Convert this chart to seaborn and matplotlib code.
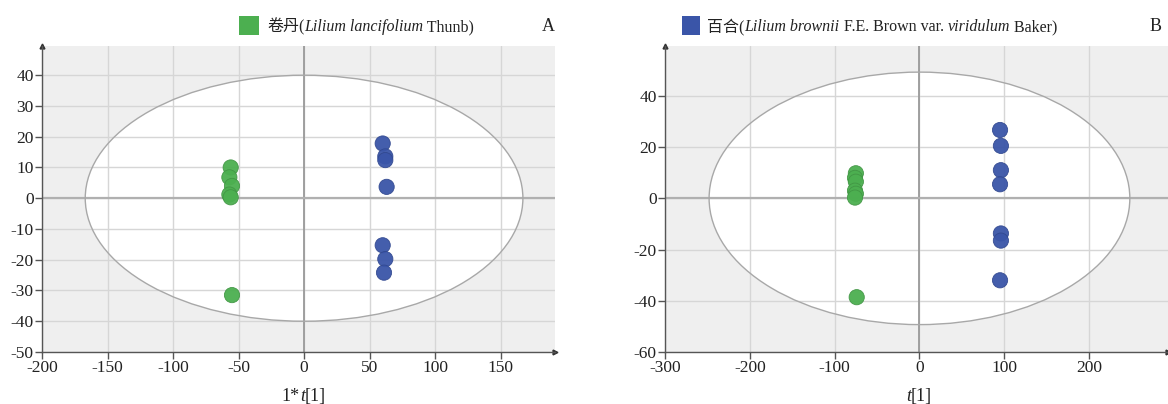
import numpy as np
import pandas as pd
import matplotlib
matplotlib.use("Agg")
import matplotlib.pyplot as plt
from matplotlib.patches import Ellipse, Rectangle
import seaborn as sns

# ---------------- data ----------------
# Panel A scores
a_green_t1 = [-56, -57, -55, -57, -56, -55]
a_green_t2 = [10.0, 6.8, 4.0, 1.2, 0.3, -31.5]
a_blue_t1 = [60, 62, 62, 63, 60, 62, 61]
a_blue_t2 = [17.8, 13.6, 12.4, 3.7, -15.3, -19.8, -24.2]
# Panel B scores
b_green_t1 = [-75, -76, -75, -76, -75, -76, -74]
b_green_t2 = [9.8, 8.0, 6.5, 3.0, 1.8, 0.3, -38.6]
b_blue_t1 = [95, 96, 96, 95, 96, 96, 95]
b_blue_t2 = [26.7, 20.5, 11.0, 5.5, -13.7, -16.5, -32.0]

a_xticks = [-200, -150, -100, -50, 0, 50, 100, 150]
a_yticks = [-50, -40, -30, -20, -10, 0, 10, 20, 30, 40]
b_xticks = [-300, -200, -100, 0, 100, 200]
b_yticks = [-60, -40, -20, 0, 20, 40]

a_ellipse = (167, 40)     # semi-axes (Hotelling T2)
b_ellipse = (248, 49.3)

legend_a = [("卷丹(", "normal"), ("Lilium lancifolium", "italic"), (" Thunb)", "normal")]
legend_b = [("百合(", "normal"), ("Lilium brownii", "italic"), (" F.E. Brown var. ", "normal"),
            ("viridulum", "italic"), (" Baker)", "normal")]
xlabel_a = [("1*", "normal"), ("t", "italic"), ("[1]", "normal")]
xlabel_b = [("t", "italic"), ("[1]", "normal")]

GREEN = "#4caf50"
BLUE = "#3a55a8"

# ---------------- style ----------------
sns.set_theme(style="white")
FAM = ["Liberation Serif", "Noto Sans CJK SC", "DejaVu Sans"]
plt.rcParams["font.family"] = FAM
plt.rcParams["axes.unicode_minus"] = False

W, H = 1168, 404
fig = plt.figure(figsize=(W / 100, H / 100), dpi=100)

def px_axes(l, r, t, b):
    return fig.add_axes([l / W, 1 - b / H, (r - l) / W, (b - t) / H])

axA = px_axes(42, 555, 46, 352)
axB = px_axes(665, 1168, 46, 352)

def make_df(gx, gy, bx, by):
    return pd.DataFrame({
        "t1": list(gx) + list(bx),
        "t2": list(gy) + list(by),
        "group": ["g"] * len(gx) + ["b"] * len(bx),
    })

def style_axes(ax, xlim, ylim, xticks, yticks, ell):
    ax.set_facecolor("#efefef")
    ax.set_xlim(*xlim)
    ax.set_ylim(*ylim)
    ax.set_xticks(xticks)
    ax.set_yticks(yticks)
    ax.set_axisbelow(True)
    ax.grid(True, color="#d6d6d6", linewidth=1.0)
    e = Ellipse((0, 0), 2 * ell[0], 2 * ell[1], facecolor="white", edgecolor="none", zorder=0.2)
    ax.add_patch(e)
    e2 = Ellipse((0, 0), 2 * ell[0], 2 * ell[1], facecolor="none", edgecolor="#a8a8a8",
                 linewidth=1.0, zorder=1.5)
    ax.add_patch(e2)
    ax.axvline(0, color="#9a9a9a", linewidth=1.3, zorder=1)
    ax.axhline(0, color="#b0b0b0", linewidth=1.6, zorder=1)
    for s in ["top", "right"]:
        ax.spines[s].set_visible(False)
    for s in ["left", "bottom"]:
        ax.spines[s].set_color("#555555")
        ax.spines[s].set_linewidth(1.0)
    ax.tick_params(axis="both", which="both", direction="out", length=5, width=1,
                   color="#555555", labelsize=12.5, labelcolor="#222222", pad=1,
                   left=True, bottom=True)
    for lab in ax.get_xticklabels() + ax.get_yticklabels():
        lab.set_fontfamily(FAM)
    ax.set_xlabel("")
    ax.set_ylabel("")
    ax.plot([0], [1], marker="^", markersize=3.5, color="#333333", transform=ax.transAxes,
            clip_on=False)
    ax.plot([1], [0], marker=">", markersize=3.5, color="#333333", transform=ax.transAxes,
            clip_on=False)

dfA = make_df(a_green_t1, a_green_t2, a_blue_t1, a_blue_t2)
dfB = make_df(b_green_t1, b_green_t2, b_blue_t1, b_blue_t2)
pal = {"g": GREEN, "b": BLUE}

for ax, df in ((axA, dfA), (axB, dfB)):
    sns.scatterplot(data=df, x="t1", y="t2", hue="group", palette=pal, s=120,
                    edgecolor=None, linewidth=0.6, alpha=0.95, legend=False, ax=ax, zorder=3)
    coll = ax.collections[-1]
    fc = coll.get_facecolors()
    coll.set_edgecolors([tuple(np.clip(np.array(c[:3]) * 0.85, 0, 1)) + (1,) for c in fc])

style_axes(axA, (-200, 191.5), (-50, 49.5), a_xticks, a_yticks, a_ellipse)
style_axes(axB, (-300, 293), (-60, 59.5), b_xticks, b_yticks, b_ellipse)

# ---------------- rich text helpers ----------------
fig.canvas.draw()
renderer = fig.canvas.get_renderer()

def rich_text(pieces, x_px, y_base_px, size, ha="left"):
    widths = []
    for s, st in pieces:
        t = fig.text(0, 0, s, fontsize=size, style=st, family=FAM)
        widths.append(t.get_window_extent(renderer).width)
        t.remove()
    total = sum(widths)
    x = x_px - (total / 2 if ha == "center" else 0)
    for (s, st), w in zip(pieces, widths):
        fig.text(x / W, 1 - y_base_px / H, s, fontsize=size, style=st, family=FAM,
                 va="baseline", ha="left", color="#222222")
        x += w

# legends
fig.add_artist(Rectangle((239 / W, 1 - 35 / H), 20 / W, 19 / H, facecolor=GREEN,
                         edgecolor="none", transform=fig.transFigure))
rich_text(legend_a, 267, 31, 11.5)
fig.add_artist(Rectangle((682 / W, 1 - 35 / H), 18 / W, 19 / H, facecolor=BLUE,
                         edgecolor="none", transform=fig.transFigure))
rich_text(legend_b, 707, 31, 11.5)
fig.text(548 / W, 1 - 31 / H, "A", fontsize=13, family=FAM, ha="center", va="baseline",
         color="#222222")
fig.text(1156 / W, 1 - 31 / H, "B", fontsize=13, family=FAM, ha="center", va="baseline",
         color="#222222")

# x labels
rich_text(xlabel_a, 304, 401, 13, ha="center")
rich_text(xlabel_b, 919, 401, 13, ha="center")

fig.savefig("out.png", dpi=100)
